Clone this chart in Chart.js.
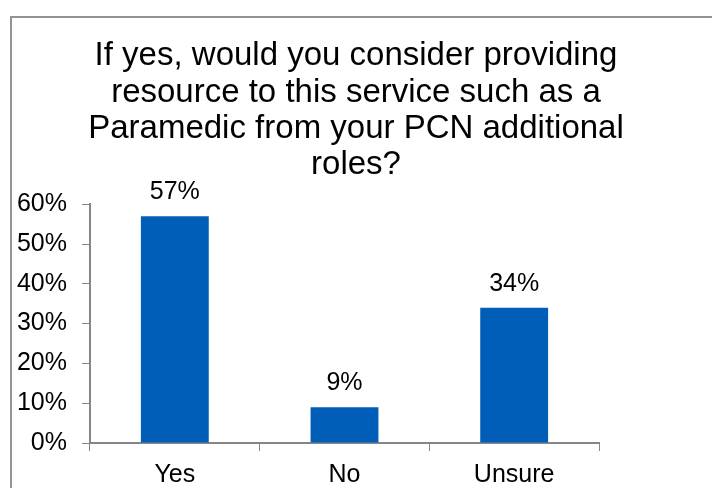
<!DOCTYPE html>
<html>
<head>
<meta charset="utf-8">
<script src="https://cdn.jsdelivr.net/npm/chart.js@4.4.0/dist/chart.umd.min.js"></script>
<style>
    body { margin: 0; background: #fff; overflow: hidden; }
    #marco {
        position: absolute; left: 10px; top: 16px;
        width: 800px; height: 600px;
        border-top: 2px solid #939393; border-left: 2px solid #939393;
    }
    #grafica { position: absolute; left: 0; top: 0; }
</style>
</head>
<body>
<div id="marco"></div>
<canvas id="grafica" width="712" height="488"></canvas>
<script>
const titulo = ['If yes, would you consider providing', 'resource to this service such as a', 'Paramedic from your PCN additional', 'roles?'];
const respuestas = ['Yes', 'No', 'Unsure'];
const porcentajes = [57, 9, 34];
const ticksEje = [0, 10, 20, 30, 40, 50, 60];

const fuente = "'Liberation Sans', Arial, sans-serif";
const gris = '#868686';

// etiqueta con el valor encima de cada barra
const etiquetasBarras = {
    id: 'etiquetasBarras',
    afterDatasetsDraw(chart) {
        const ctx = chart.ctx;
        ctx.save();
        ctx.font = '25px ' + fuente;
        ctx.fillStyle = '#000';
        ctx.textAlign = 'center';
        ctx.textBaseline = 'alphabetic';
        chart.getDatasetMeta(0).data.forEach((barra, i) => {
            ctx.fillText(porcentajes[i] + '%', barra.x, barra.y - 17);
        });
        ctx.restore();
    }
};

var ctx = document.getElementById('grafica').getContext('2d');
var grafica = new Chart(ctx, {
    type: 'bar',
    data: {
        labels: respuestas,
        datasets: [{
            data: porcentajes,
            backgroundColor: '#005EB8',
            borderWidth: 0,
            categoryPercentage: 1,
            barPercentage: 0.4
        }]
    },
    options: {
        responsive: false,
        animation: false,
        layout: { padding: 0 },
        plugins: {
            legend: { display: false },
            tooltip: { enabled: false },
            title: {
                display: true,
                text: titulo,
                color: '#000',
                font: { family: fuente, size: 33, weight: 'normal', lineHeight: 1.1 },
                padding: { top: 38, bottom: 21 }
            }
        },
        scales: {
            x: {
                afterFit: (escala) => { escala.height = 45; },
                grid: { drawOnChartArea: false, drawTicks: true, tickLength: 8, color: gris },
                border: { color: gris, width: 2 },
                ticks: { color: '#000', font: { family: fuente, size: 25 }, padding: 9 }
            },
            y: {
                min: 0,
                max: 60,
                afterBuildTicks: (escala) => {
                    escala.ticks = ticksEje.map(v => ({ value: v }));
                },
                afterFit: (escala) => { escala.width = 90; },
                grid: { drawOnChartArea: false, drawTicks: true, tickLength: 8, color: gris },
                border: { color: gris, width: 2 },
                ticks: {
                    color: '#000',
                    font: { family: fuente, size: 25 },
                    padding: 15,
                    callback: v => v + '%'
                }
            },
            // espacio vacío a la derecha del área de barras
            derecha: {
                type: 'linear',
                position: 'right',
                afterFit: (escala) => { escala.width = 113; },
                grid: { display: false },
                border: { display: false },
                ticks: { display: false }
            }
        }
    },
    plugins: [etiquetasBarras]
});
</script>
</body>
</html>
